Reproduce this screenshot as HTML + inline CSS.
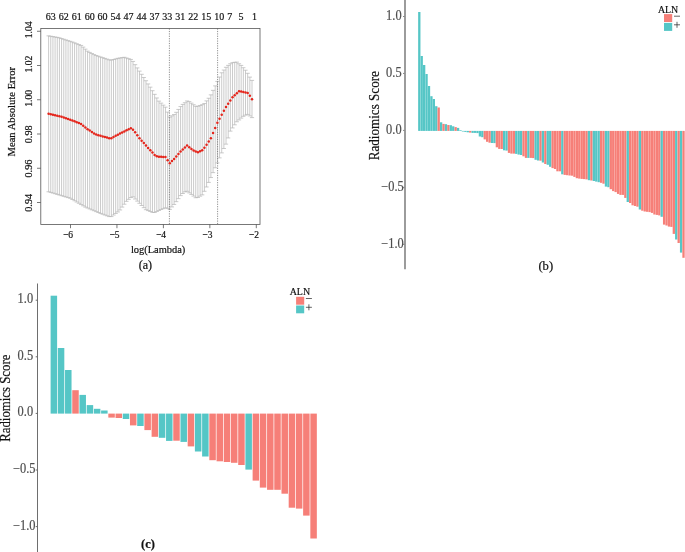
<!DOCTYPE html>
<html><head><meta charset="utf-8"><title>Figure</title>
<style>
html,body{margin:0;padding:0;background:#fff;}
body{width:685px;height:552px;overflow:hidden;font-family:"Liberation Serif",serif;}
svg{display:block;will-change:transform;}
text{font-family:"Liberation Serif",serif;}
</style></head><body>
<svg width="685" height="552" viewBox="0 0 685 552">
<rect x="0" y="0" width="685" height="552" fill="#ffffff"/>
<path d="M48.60 35.86V191.77M46.50 35.86h4.2M46.50 191.77h4.2M50.76 36.24V192.42M48.66 36.24h4.2M48.66 192.42h4.2M52.93 36.63V193.07M50.83 36.63h4.2M50.83 193.07h4.2M55.09 37.01V193.71M52.99 37.01h4.2M52.99 193.71h4.2M57.26 37.39V194.36M55.16 37.39h4.2M55.16 194.36h4.2M59.42 37.84V195.01M57.32 37.84h4.2M57.32 195.01h4.2M61.58 38.54V195.66M59.48 38.54h4.2M59.48 195.66h4.2M63.75 39.24V196.31M61.65 39.24h4.2M61.65 196.31h4.2M65.91 39.94V196.96M63.81 39.94h4.2M63.81 196.96h4.2M68.07 40.64V197.60M65.97 40.64h4.2M65.97 197.60h4.2M70.24 41.34V198.25M68.14 41.34h4.2M68.14 198.25h4.2M72.40 42.04V199.47M70.30 42.04h4.2M70.30 199.47h4.2M74.57 42.86V200.74M72.47 42.86h4.2M72.47 200.74h4.2M76.73 43.72V202.01M74.63 43.72h4.2M74.63 202.01h4.2M78.89 44.58V203.28M76.79 44.58h4.2M76.79 203.28h4.2M81.06 45.44V204.55M78.96 45.44h4.2M78.96 204.55h4.2M83.22 47.12V205.82M81.12 47.12h4.2M81.12 205.82h4.2M85.39 49.15V207.09M83.29 49.15h4.2M83.29 207.09h4.2M87.55 51.17V208.00M85.45 51.17h4.2M85.45 208.00h4.2M89.71 52.41V208.90M87.61 52.41h4.2M87.61 208.90h4.2M91.88 53.49V209.80M89.78 53.49h4.2M89.78 209.80h4.2M94.04 54.57V210.70M91.94 54.57h4.2M91.94 210.70h4.2M96.20 55.53V211.61M94.10 55.53h4.2M94.10 211.61h4.2M98.37 56.25V212.51M96.27 56.25h4.2M96.27 212.51h4.2M100.53 56.97V213.41M98.43 56.97h4.2M98.43 213.41h4.2M102.70 57.68V214.20M100.60 57.68h4.2M100.60 214.20h4.2M104.86 58.40V215.00M102.76 58.40h4.2M102.76 215.00h4.2M107.02 59.12V215.79M104.92 59.12h4.2M104.92 215.79h4.2M109.19 59.83V216.58M107.09 59.83h4.2M107.09 216.58h4.2M111.35 60.10V216.56M109.25 60.10h4.2M109.25 216.56h4.2M113.51 59.51V215.02M111.41 59.51h4.2M111.41 215.02h4.2M115.68 58.93V213.48M113.58 58.93h4.2M113.58 213.48h4.2M117.84 58.34V211.94M115.74 58.34h4.2M115.74 211.94h4.2M120.01 57.99V209.96M117.91 57.99h4.2M117.91 209.96h4.2M122.17 57.65V207.09M120.07 57.65h4.2M120.07 207.09h4.2M124.33 57.31V204.21M122.23 57.31h4.2M122.23 204.21h4.2M126.50 58.00V201.33M124.40 58.00h4.2M124.40 201.33h4.2M128.66 58.72V199.36M126.56 58.72h4.2M126.56 199.36h4.2M130.83 59.44V197.59M128.73 59.44h4.2M128.73 197.59h4.2M132.99 61.43V196.88M130.89 61.43h4.2M130.89 196.88h4.2M135.15 64.68V199.01M133.05 64.68h4.2M133.05 199.01h4.2M137.32 67.92V201.13M135.22 67.92h4.2M135.22 201.13h4.2M139.48 71.11V203.30M137.38 71.11h4.2M137.38 203.30h4.2M141.64 74.30V205.49M139.54 74.30h4.2M139.54 205.49h4.2M143.81 77.50V207.68M141.71 77.50h4.2M141.71 207.68h4.2M145.97 80.72V209.71M143.87 80.72h4.2M143.87 209.71h4.2M148.14 83.94V210.59M146.04 83.94h4.2M146.04 210.59h4.2M150.30 87.16V211.47M148.20 87.16h4.2M148.20 211.47h4.2M152.46 90.70V212.36M150.36 90.70h4.2M150.36 212.36h4.2M154.63 94.33V212.51M152.53 94.33h4.2M152.53 212.51h4.2M156.79 97.97V211.49M154.69 97.97h4.2M154.69 211.49h4.2M158.96 101.11V210.47M156.86 101.11h4.2M156.86 210.47h4.2M161.12 103.13V209.48M159.02 103.13h4.2M159.02 209.48h4.2M163.28 105.15V208.65M161.18 105.15h4.2M161.18 208.65h4.2M165.45 107.17V207.83M163.35 107.17h4.2M163.35 207.83h4.2M167.61 112.12V208.33M165.51 112.12h4.2M165.51 208.33h4.2M169.77 117.10V209.40M167.67 117.10h4.2M167.67 209.40h4.2M171.94 115.81V206.92M169.84 115.81h4.2M169.84 206.92h4.2M174.10 114.53V204.44M172.00 114.53h4.2M172.00 204.44h4.2M176.27 112.32V201.67M174.17 112.32h4.2M174.17 201.67h4.2M178.43 109.44V198.65M176.33 109.44h4.2M176.33 198.65h4.2M180.59 106.57V195.63M178.49 106.57h4.2M178.49 195.63h4.2M182.76 104.42V193.50M180.66 104.42h4.2M180.66 193.50h4.2M184.92 102.71V191.89M182.82 102.71h4.2M182.82 191.89h4.2M187.09 100.99V191.30M184.99 100.99h4.2M184.99 191.30h4.2M189.25 101.61V192.87M187.15 101.61h4.2M187.15 192.87h4.2M191.41 103.16V194.44M189.31 103.16h4.2M189.31 194.44h4.2M193.58 104.71V196.08M191.48 104.71h4.2M191.48 196.08h4.2M195.74 106.26V197.72M193.64 106.26h4.2M193.64 197.72h4.2M197.90 106.28V197.45M195.80 106.28h4.2M195.80 197.45h4.2M200.07 105.47V196.15M197.97 105.47h4.2M197.97 196.15h4.2M202.23 104.66V194.84M200.13 104.66h4.2M200.13 194.84h4.2M204.40 103.52V191.31M202.30 103.52h4.2M202.30 191.31h4.2M206.56 100.89V186.98M204.46 100.89h4.2M204.46 186.98h4.2M208.72 98.25V182.41M206.62 98.25h4.2M206.62 182.41h4.2M210.89 94.86V177.52M208.79 94.86h4.2M208.79 177.52h4.2M213.05 90.37V172.64M210.95 90.37h4.2M210.95 172.64h4.2M215.21 85.88V167.78M213.11 85.88h4.2M213.11 167.78h4.2M217.38 81.43V162.92M215.28 81.43h4.2M215.28 162.92h4.2M219.54 77.06V157.88M217.44 77.06h4.2M217.44 157.88h4.2M221.71 72.77V152.89M219.61 72.77h4.2M219.61 152.89h4.2M223.87 70.04V148.51M221.77 70.04h4.2M221.77 148.51h4.2M226.03 67.31V144.14M223.93 67.31h4.2M223.93 144.14h4.2M228.20 65.39V137.95M226.10 65.39h4.2M226.10 137.95h4.2M230.36 63.74V131.12M228.26 63.74h4.2M228.26 131.12h4.2M232.53 62.65V127.93M230.43 62.65h4.2M230.43 127.93h4.2M234.69 62.32V124.80M232.59 62.32h4.2M232.59 124.80h4.2M236.85 62.12V121.77M234.75 62.12h4.2M234.75 121.77h4.2M239.02 63.76V119.95M236.92 63.76h4.2M236.92 119.95h4.2M241.18 65.41V118.14M239.08 65.41h4.2M239.08 118.14h4.2M243.34 67.71V116.32M241.24 67.71h4.2M241.24 116.32h4.2M245.51 70.22V115.15M243.41 70.22h4.2M243.41 115.15h4.2M247.67 73.31V114.41M245.57 73.31h4.2M245.57 114.41h4.2M249.84 77.12V115.94M247.74 77.12h4.2M247.74 115.94h4.2M252.00 80.40V117.60M249.90 80.40h4.2M249.90 117.60h4.2" stroke="#b4b4b4" stroke-width="0.7" fill="none"/>
<path d="M169.4 28.5V224M217.6 28.5V224" stroke="#606060" stroke-width="0.7" stroke-dasharray="1.2 1.2" fill="none"/>
<circle cx="48.60" cy="113.79" r="1.25" fill="#e4251b"/><circle cx="50.76" cy="114.25" r="1.25" fill="#e4251b"/><circle cx="52.93" cy="114.71" r="1.25" fill="#e4251b"/><circle cx="55.09" cy="115.17" r="1.25" fill="#e4251b"/><circle cx="57.26" cy="115.63" r="1.25" fill="#e4251b"/><circle cx="59.42" cy="116.14" r="1.25" fill="#e4251b"/><circle cx="61.58" cy="116.85" r="1.25" fill="#e4251b"/><circle cx="63.75" cy="117.57" r="1.25" fill="#e4251b"/><circle cx="65.91" cy="118.29" r="1.25" fill="#e4251b"/><circle cx="68.07" cy="119.00" r="1.25" fill="#e4251b"/><circle cx="70.24" cy="119.72" r="1.25" fill="#e4251b"/><circle cx="72.40" cy="120.44" r="1.25" fill="#e4251b"/><circle cx="74.57" cy="121.27" r="1.25" fill="#e4251b"/><circle cx="76.73" cy="122.13" r="1.25" fill="#e4251b"/><circle cx="78.89" cy="123.00" r="1.25" fill="#e4251b"/><circle cx="81.06" cy="124.11" r="1.25" fill="#e4251b"/><circle cx="83.22" cy="125.78" r="1.25" fill="#e4251b"/><circle cx="85.39" cy="127.46" r="1.25" fill="#e4251b"/><circle cx="87.55" cy="129.13" r="1.25" fill="#e4251b"/><circle cx="89.71" cy="130.59" r="1.25" fill="#e4251b"/><circle cx="91.88" cy="132.02" r="1.25" fill="#e4251b"/><circle cx="94.04" cy="133.44" r="1.25" fill="#e4251b"/><circle cx="96.20" cy="134.60" r="1.25" fill="#e4251b"/><circle cx="98.37" cy="135.20" r="1.25" fill="#e4251b"/><circle cx="100.53" cy="135.80" r="1.25" fill="#e4251b"/><circle cx="102.70" cy="136.40" r="1.25" fill="#e4251b"/><circle cx="104.86" cy="137.00" r="1.25" fill="#e4251b"/><circle cx="107.02" cy="137.61" r="1.25" fill="#e4251b"/><circle cx="109.19" cy="138.21" r="1.25" fill="#e4251b"/><circle cx="111.35" cy="138.19" r="1.25" fill="#e4251b"/><circle cx="113.51" cy="137.03" r="1.25" fill="#e4251b"/><circle cx="115.68" cy="135.86" r="1.25" fill="#e4251b"/><circle cx="117.84" cy="134.69" r="1.25" fill="#e4251b"/><circle cx="120.01" cy="133.52" r="1.25" fill="#e4251b"/><circle cx="122.17" cy="132.44" r="1.25" fill="#e4251b"/><circle cx="124.33" cy="131.40" r="1.25" fill="#e4251b"/><circle cx="126.50" cy="130.36" r="1.25" fill="#e4251b"/><circle cx="128.66" cy="129.32" r="1.25" fill="#e4251b"/><circle cx="130.83" cy="128.28" r="1.25" fill="#e4251b"/><circle cx="132.99" cy="129.83" r="1.25" fill="#e4251b"/><circle cx="135.15" cy="132.25" r="1.25" fill="#e4251b"/><circle cx="137.32" cy="135.28" r="1.25" fill="#e4251b"/><circle cx="139.48" cy="138.29" r="1.25" fill="#e4251b"/><circle cx="141.64" cy="140.70" r="1.25" fill="#e4251b"/><circle cx="143.81" cy="143.11" r="1.25" fill="#e4251b"/><circle cx="145.97" cy="145.52" r="1.25" fill="#e4251b"/><circle cx="148.14" cy="147.93" r="1.25" fill="#e4251b"/><circle cx="150.30" cy="150.25" r="1.25" fill="#e4251b"/><circle cx="152.46" cy="152.58" r="1.25" fill="#e4251b"/><circle cx="154.63" cy="154.90" r="1.25" fill="#e4251b"/><circle cx="156.79" cy="156.14" r="1.25" fill="#e4251b"/><circle cx="158.96" cy="156.74" r="1.25" fill="#e4251b"/><circle cx="161.12" cy="156.82" r="1.25" fill="#e4251b"/><circle cx="163.28" cy="156.90" r="1.25" fill="#e4251b"/><circle cx="165.45" cy="156.98" r="1.25" fill="#e4251b"/><circle cx="167.61" cy="160.22" r="1.25" fill="#e4251b"/><circle cx="169.77" cy="163.23" r="1.25" fill="#e4251b"/><circle cx="171.94" cy="161.06" r="1.25" fill="#e4251b"/><circle cx="174.10" cy="158.90" r="1.25" fill="#e4251b"/><circle cx="176.27" cy="156.54" r="1.25" fill="#e4251b"/><circle cx="178.43" cy="154.03" r="1.25" fill="#e4251b"/><circle cx="180.59" cy="151.53" r="1.25" fill="#e4251b"/><circle cx="182.76" cy="149.41" r="1.25" fill="#e4251b"/><circle cx="184.92" cy="147.50" r="1.25" fill="#e4251b"/><circle cx="187.09" cy="145.60" r="1.25" fill="#e4251b"/><circle cx="189.25" cy="147.18" r="1.25" fill="#e4251b"/><circle cx="191.41" cy="148.95" r="1.25" fill="#e4251b"/><circle cx="193.58" cy="150.40" r="1.25" fill="#e4251b"/><circle cx="195.74" cy="151.40" r="1.25" fill="#e4251b"/><circle cx="197.90" cy="152.21" r="1.25" fill="#e4251b"/><circle cx="200.07" cy="151.23" r="1.25" fill="#e4251b"/><circle cx="202.23" cy="150.26" r="1.25" fill="#e4251b"/><circle cx="204.40" cy="147.77" r="1.25" fill="#e4251b"/><circle cx="206.56" cy="144.74" r="1.25" fill="#e4251b"/><circle cx="208.72" cy="141.56" r="1.25" fill="#e4251b"/><circle cx="210.89" cy="138.18" r="1.25" fill="#e4251b"/><circle cx="213.05" cy="133.12" r="1.25" fill="#e4251b"/><circle cx="215.21" cy="127.96" r="1.25" fill="#e4251b"/><circle cx="217.38" cy="122.85" r="1.25" fill="#e4251b"/><circle cx="219.54" cy="118.85" r="1.25" fill="#e4251b"/><circle cx="221.71" cy="114.84" r="1.25" fill="#e4251b"/><circle cx="223.87" cy="110.83" r="1.25" fill="#e4251b"/><circle cx="226.03" cy="107.04" r="1.25" fill="#e4251b"/><circle cx="228.20" cy="103.78" r="1.25" fill="#e4251b"/><circle cx="230.36" cy="100.52" r="1.25" fill="#e4251b"/><circle cx="232.53" cy="97.26" r="1.25" fill="#e4251b"/><circle cx="234.69" cy="95.14" r="1.25" fill="#e4251b"/><circle cx="236.85" cy="93.25" r="1.25" fill="#e4251b"/><circle cx="239.02" cy="91.36" r="1.25" fill="#e4251b"/><circle cx="241.18" cy="91.61" r="1.25" fill="#e4251b"/><circle cx="243.34" cy="92.05" r="1.25" fill="#e4251b"/><circle cx="245.51" cy="92.49" r="1.25" fill="#e4251b"/><circle cx="247.67" cy="92.93" r="1.25" fill="#e4251b"/><circle cx="249.84" cy="95.75" r="1.25" fill="#e4251b"/><circle cx="252.00" cy="99.20" r="1.25" fill="#e4251b"/>
<rect x="40.8" y="28.4" width="219.2" height="196" fill="none" stroke="#555" stroke-width="0.8"/>
<path d="M70.50 224.4v3.8" stroke="#555" stroke-width="0.8"/><text transform="translate(63.00 238.10) scale(0.871 1)" font-size="10.9" fill="#111" stroke="#111" stroke-width="0.2">−6</text>
<path d="M116.95 224.4v3.8" stroke="#555" stroke-width="0.8"/><text transform="translate(109.45 238.10) scale(0.871 1)" font-size="10.9" fill="#111" stroke="#111" stroke-width="0.2">−5</text>
<path d="M163.40 224.4v3.8" stroke="#555" stroke-width="0.8"/><text transform="translate(155.90 238.10) scale(0.871 1)" font-size="10.9" fill="#111" stroke="#111" stroke-width="0.2">−4</text>
<path d="M209.85 224.4v3.8" stroke="#555" stroke-width="0.8"/><text transform="translate(202.35 238.10) scale(0.871 1)" font-size="10.9" fill="#111" stroke="#111" stroke-width="0.2">−3</text>
<path d="M256.30 224.4v3.8" stroke="#555" stroke-width="0.8"/><text transform="translate(248.80 238.10) scale(0.871 1)" font-size="10.9" fill="#111" stroke="#111" stroke-width="0.2">−2</text>
<path d="M40.8 202.50h-3.8" stroke="#555" stroke-width="0.8"/><text transform="translate(32.40 211.80) rotate(-90) scale(0.949 1)" font-size="10.9" fill="#111" stroke="#111" stroke-width="0.2">0.94</text>
<path d="M40.8 168.25h-3.8" stroke="#555" stroke-width="0.8"/><text transform="translate(32.40 177.55) rotate(-90) scale(0.949 1)" font-size="10.9" fill="#111" stroke="#111" stroke-width="0.2">0.96</text>
<path d="M40.8 134.00h-3.8" stroke="#555" stroke-width="0.8"/><text transform="translate(32.40 143.30) rotate(-90) scale(0.949 1)" font-size="10.9" fill="#111" stroke="#111" stroke-width="0.2">0.98</text>
<path d="M40.8 99.75h-3.8" stroke="#555" stroke-width="0.8"/><text transform="translate(32.40 106.75) rotate(-90) scale(0.881 1)" font-size="10.9" fill="#111" stroke="#111" stroke-width="0.2">1.00</text>
<path d="M40.8 65.50h-3.8" stroke="#555" stroke-width="0.8"/><text transform="translate(32.40 72.50) rotate(-90) scale(0.881 1)" font-size="10.9" fill="#111" stroke="#111" stroke-width="0.2">1.02</text>
<path d="M40.8 31.25h-3.8" stroke="#555" stroke-width="0.8"/><text transform="translate(32.40 38.25) rotate(-90) scale(0.881 1)" font-size="10.9" fill="#111" stroke="#111" stroke-width="0.2">1.04</text>
<text transform="translate(14.90 156.50) rotate(-90) scale(0.973 1)" font-size="10.9" fill="#111" stroke="#111" stroke-width="0.2">Mean Absolute Error</text>
<text transform="translate(130.90 253.40) scale(0.958 1)" font-size="10.9" fill="#111" stroke="#111" stroke-width="0.2">log(Lambda)</text>
<text transform="translate(138.70 269.00) scale(1.006 1)" font-size="12.0" fill="#111" stroke="#111" stroke-width="0.2">(a)</text>
<text transform="translate(45.79 19.60) scale(0.920 1)" font-size="10.9" fill="#111" stroke="#111" stroke-width="0.2">63</text><text transform="translate(58.74 19.60) scale(0.920 1)" font-size="10.9" fill="#111" stroke="#111" stroke-width="0.2">62</text><text transform="translate(71.69 19.60) scale(0.920 1)" font-size="10.9" fill="#111" stroke="#111" stroke-width="0.2">61</text><text transform="translate(84.64 19.60) scale(0.920 1)" font-size="10.9" fill="#111" stroke="#111" stroke-width="0.2">60</text><text transform="translate(97.59 19.60) scale(0.920 1)" font-size="10.9" fill="#111" stroke="#111" stroke-width="0.2">60</text><text transform="translate(110.54 19.60) scale(0.920 1)" font-size="10.9" fill="#111" stroke="#111" stroke-width="0.2">54</text><text transform="translate(123.49 19.60) scale(0.920 1)" font-size="10.9" fill="#111" stroke="#111" stroke-width="0.2">47</text><text transform="translate(136.44 19.60) scale(0.920 1)" font-size="10.9" fill="#111" stroke="#111" stroke-width="0.2">44</text><text transform="translate(149.39 19.60) scale(0.920 1)" font-size="10.9" fill="#111" stroke="#111" stroke-width="0.2">37</text><text transform="translate(162.34 19.60) scale(0.920 1)" font-size="10.9" fill="#111" stroke="#111" stroke-width="0.2">33</text><text transform="translate(175.29 19.60) scale(0.920 1)" font-size="10.9" fill="#111" stroke="#111" stroke-width="0.2">31</text><text transform="translate(188.24 19.60) scale(0.920 1)" font-size="10.9" fill="#111" stroke="#111" stroke-width="0.2">22</text><text transform="translate(201.19 19.60) scale(0.920 1)" font-size="10.9" fill="#111" stroke="#111" stroke-width="0.2">15</text><text transform="translate(214.14 19.60) scale(0.920 1)" font-size="10.9" fill="#111" stroke="#111" stroke-width="0.2">10</text><text transform="translate(227.29 19.60) scale(0.920 1)" font-size="10.9" fill="#111" stroke="#111" stroke-width="0.2">7</text><text transform="translate(238.39 19.60) scale(0.920 1)" font-size="10.9" fill="#111" stroke="#111" stroke-width="0.2">5</text><text transform="translate(251.89 19.60) scale(0.920 1)" font-size="10.9" fill="#111" stroke="#111" stroke-width="0.2">1</text>
<rect x="418.15" y="12.00" width="2.3" height="118.90" fill="#55c6c6"/><rect x="420.57" y="56.00" width="2.3" height="74.90" fill="#55c6c6"/><rect x="423.00" y="65.00" width="2.3" height="65.90" fill="#55c6c6"/><rect x="425.42" y="74.00" width="2.3" height="56.90" fill="#55c6c6"/><rect x="427.85" y="86.00" width="2.3" height="44.90" fill="#55c6c6"/><rect x="430.27" y="96.20" width="2.3" height="34.70" fill="#55c6c6"/><rect x="432.69" y="99.00" width="2.3" height="31.90" fill="#55c6c6"/><rect x="435.12" y="106.20" width="2.3" height="24.70" fill="#55c6c6"/><rect x="437.54" y="107.50" width="2.3" height="23.40" fill="#f67f78"/><rect x="439.97" y="122.30" width="2.3" height="8.60" fill="#55c6c6"/><rect x="442.39" y="123.90" width="2.3" height="7.00" fill="#f67f78"/><rect x="444.81" y="124.20" width="2.3" height="6.70" fill="#55c6c6"/><rect x="447.24" y="125.00" width="2.3" height="5.90" fill="#f67f78"/><rect x="449.66" y="125.20" width="2.3" height="5.70" fill="#55c6c6"/><rect x="452.09" y="126.30" width="2.3" height="4.60" fill="#55c6c6"/><rect x="454.51" y="127.10" width="2.3" height="3.80" fill="#f67f78"/><rect x="456.93" y="127.90" width="2.3" height="3.00" fill="#55c6c6"/><rect x="459.36" y="130.20" width="2.3" height="0.70" fill="#55c6c6"/><rect x="461.78" y="130.90" width="2.3" height="0.60" fill="#55c6c6"/><rect x="464.21" y="130.90" width="2.3" height="1.00" fill="#55c6c6"/><rect x="466.63" y="130.90" width="2.3" height="1.40" fill="#55c6c6"/><rect x="469.05" y="130.90" width="2.3" height="1.70" fill="#f67f78"/><rect x="471.48" y="130.90" width="2.3" height="2.00" fill="#55c6c6"/><rect x="473.90" y="130.90" width="2.3" height="2.00" fill="#55c6c6"/><rect x="476.33" y="130.90" width="2.3" height="2.20" fill="#55c6c6"/><rect x="478.75" y="130.90" width="2.3" height="5.60" fill="#55c6c6"/><rect x="481.17" y="130.90" width="2.3" height="6.30" fill="#55c6c6"/><rect x="483.60" y="130.90" width="2.3" height="8.50" fill="#f67f78"/><rect x="486.02" y="130.90" width="2.3" height="10.90" fill="#f67f78"/><rect x="488.45" y="130.90" width="2.3" height="11.80" fill="#f67f78"/><rect x="490.87" y="130.90" width="2.3" height="12.10" fill="#55c6c6"/><rect x="493.29" y="130.90" width="2.3" height="12.20" fill="#55c6c6"/><rect x="495.72" y="130.90" width="2.3" height="16.40" fill="#f67f78"/><rect x="498.14" y="130.90" width="2.3" height="18.00" fill="#f67f78"/><rect x="500.57" y="130.90" width="2.3" height="18.10" fill="#f67f78"/><rect x="502.99" y="130.90" width="2.3" height="19.40" fill="#55c6c6"/><rect x="505.41" y="130.90" width="2.3" height="19.70" fill="#55c6c6"/><rect x="507.84" y="130.90" width="2.3" height="22.00" fill="#f67f78"/><rect x="510.26" y="130.90" width="2.3" height="22.70" fill="#f67f78"/><rect x="512.69" y="130.90" width="2.3" height="22.70" fill="#f67f78"/><rect x="515.11" y="130.90" width="2.3" height="23.00" fill="#55c6c6"/><rect x="517.53" y="130.90" width="2.3" height="23.70" fill="#55c6c6"/><rect x="519.96" y="130.90" width="2.3" height="24.10" fill="#55c6c6"/><rect x="522.38" y="130.90" width="2.3" height="25.40" fill="#f67f78"/><rect x="524.81" y="130.90" width="2.3" height="27.00" fill="#f67f78"/><rect x="527.23" y="130.90" width="2.3" height="27.00" fill="#55c6c6"/><rect x="529.65" y="130.90" width="2.3" height="27.00" fill="#f67f78"/><rect x="532.08" y="130.90" width="2.3" height="27.20" fill="#f67f78"/><rect x="534.50" y="130.90" width="2.3" height="28.90" fill="#55c6c6"/><rect x="536.93" y="130.90" width="2.3" height="29.60" fill="#55c6c6"/><rect x="539.35" y="130.90" width="2.3" height="29.80" fill="#f67f78"/><rect x="541.77" y="130.90" width="2.3" height="31.60" fill="#55c6c6"/><rect x="544.20" y="130.90" width="2.3" height="33.10" fill="#f67f78"/><rect x="546.62" y="130.90" width="2.3" height="33.90" fill="#55c6c6"/><rect x="549.05" y="130.90" width="2.3" height="35.90" fill="#55c6c6"/><rect x="551.47" y="130.90" width="2.3" height="37.20" fill="#f67f78"/><rect x="553.89" y="130.90" width="2.3" height="38.10" fill="#f67f78"/><rect x="556.32" y="130.90" width="2.3" height="40.40" fill="#f67f78"/><rect x="558.74" y="130.90" width="2.3" height="40.40" fill="#f67f78"/><rect x="561.17" y="130.90" width="2.3" height="43.40" fill="#55c6c6"/><rect x="563.59" y="130.90" width="2.3" height="44.00" fill="#f67f78"/><rect x="566.01" y="130.90" width="2.3" height="44.30" fill="#f67f78"/><rect x="568.44" y="130.90" width="2.3" height="44.60" fill="#f67f78"/><rect x="570.86" y="130.90" width="2.3" height="44.80" fill="#f67f78"/><rect x="573.29" y="130.90" width="2.3" height="46.00" fill="#f67f78"/><rect x="575.71" y="130.90" width="2.3" height="47.30" fill="#f67f78"/><rect x="578.13" y="130.90" width="2.3" height="47.70" fill="#f67f78"/><rect x="580.56" y="130.90" width="2.3" height="48.00" fill="#f67f78"/><rect x="582.98" y="130.90" width="2.3" height="48.20" fill="#f67f78"/><rect x="585.41" y="130.90" width="2.3" height="48.50" fill="#f67f78"/><rect x="587.83" y="130.90" width="2.3" height="49.30" fill="#55c6c6"/><rect x="590.25" y="130.90" width="2.3" height="49.60" fill="#f67f78"/><rect x="592.68" y="130.90" width="2.3" height="50.10" fill="#55c6c6"/><rect x="595.10" y="130.90" width="2.3" height="50.70" fill="#55c6c6"/><rect x="597.53" y="130.90" width="2.3" height="51.30" fill="#55c6c6"/><rect x="599.95" y="130.90" width="2.3" height="51.90" fill="#f67f78"/><rect x="602.37" y="130.90" width="2.3" height="52.80" fill="#f67f78"/><rect x="604.80" y="130.90" width="2.3" height="55.70" fill="#55c6c6"/><rect x="607.22" y="130.90" width="2.3" height="56.30" fill="#55c6c6"/><rect x="609.65" y="130.90" width="2.3" height="58.30" fill="#f67f78"/><rect x="612.07" y="130.90" width="2.3" height="60.20" fill="#f67f78"/><rect x="614.49" y="130.90" width="2.3" height="61.20" fill="#f67f78"/><rect x="616.92" y="130.90" width="2.3" height="63.00" fill="#f67f78"/><rect x="619.34" y="130.90" width="2.3" height="64.00" fill="#f67f78"/><rect x="621.77" y="130.90" width="2.3" height="64.00" fill="#f67f78"/><rect x="624.19" y="130.90" width="2.3" height="67.00" fill="#f67f78"/><rect x="626.61" y="130.90" width="2.3" height="71.10" fill="#55c6c6"/><rect x="629.04" y="130.90" width="2.3" height="72.10" fill="#f67f78"/><rect x="631.46" y="130.90" width="2.3" height="74.40" fill="#f67f78"/><rect x="633.89" y="130.90" width="2.3" height="75.10" fill="#f67f78"/><rect x="636.31" y="130.90" width="2.3" height="75.80" fill="#f67f78"/><rect x="638.73" y="130.90" width="2.3" height="78.60" fill="#55c6c6"/><rect x="641.16" y="130.90" width="2.3" height="79.80" fill="#f67f78"/><rect x="643.58" y="130.90" width="2.3" height="80.60" fill="#f67f78"/><rect x="646.01" y="130.90" width="2.3" height="80.90" fill="#f67f78"/><rect x="648.43" y="130.90" width="2.3" height="81.20" fill="#f67f78"/><rect x="650.85" y="130.90" width="2.3" height="82.00" fill="#f67f78"/><rect x="653.28" y="130.90" width="2.3" height="83.60" fill="#f67f78"/><rect x="655.70" y="130.90" width="2.3" height="84.00" fill="#f67f78"/><rect x="658.13" y="130.90" width="2.3" height="84.50" fill="#f67f78"/><rect x="660.55" y="130.90" width="2.3" height="85.90" fill="#55c6c6"/><rect x="662.97" y="130.90" width="2.3" height="93.70" fill="#f67f78"/><rect x="665.40" y="130.90" width="2.3" height="94.60" fill="#f67f78"/><rect x="667.82" y="130.90" width="2.3" height="95.70" fill="#f67f78"/><rect x="670.25" y="130.90" width="2.3" height="96.00" fill="#f67f78"/><rect x="672.67" y="130.90" width="2.3" height="103.00" fill="#f67f78"/><rect x="675.09" y="130.90" width="2.3" height="108.60" fill="#55c6c6"/><rect x="677.52" y="130.90" width="2.3" height="112.10" fill="#f67f78"/><rect x="679.94" y="130.90" width="2.3" height="121.70" fill="#55c6c6"/><rect x="682.37" y="130.90" width="2.3" height="126.90" fill="#f67f78"/>
<path d="M405.0 0V269.2" stroke="#979797" stroke-width="1.9"/>
<path d="M403.2 16.50h1" stroke="#444" stroke-width="0.8"/><text transform="translate(386.10 19.80) scale(0.886 1)" font-size="14.0" fill="#4d4d4d" stroke="#4d4d4d" stroke-width="0.2">1.0</text>
<path d="M403.2 73.45h1" stroke="#444" stroke-width="0.8"/><text transform="translate(386.10 76.75) scale(0.886 1)" font-size="14.0" fill="#4d4d4d" stroke="#4d4d4d" stroke-width="0.2">0.5</text>
<path d="M403.2 130.40h1" stroke="#444" stroke-width="0.8"/><text transform="translate(386.10 133.70) scale(0.886 1)" font-size="14.0" fill="#4d4d4d" stroke="#4d4d4d" stroke-width="0.2">0.0</text>
<path d="M403.2 187.35h1" stroke="#444" stroke-width="0.8"/><text transform="translate(381.21 190.65) scale(0.886 1)" font-size="14.0" fill="#4d4d4d" stroke="#4d4d4d" stroke-width="0.2">−0.5</text>
<path d="M403.2 244.30h1" stroke="#444" stroke-width="0.8"/><text transform="translate(381.21 247.60) scale(0.886 1)" font-size="14.0" fill="#4d4d4d" stroke="#4d4d4d" stroke-width="0.2">−1.0</text>
<text transform="translate(379.30 160.30) rotate(-90) scale(0.893 1)" font-size="14.7" fill="#111" stroke="#111" stroke-width="0.2">Radiomics Score</text>
<text transform="translate(538.40 269.60) scale(1.051 1)" font-size="12.0" fill="#111" stroke="#111" stroke-width="0.2">(b)</text>
<text transform="translate(657.90 12.50) scale(0.867 1)" font-size="11.4" fill="#111" stroke="#111" stroke-width="0.2">ALN</text><rect x="664" y="14.1" width="8.2" height="7.9" fill="#f67f78"/><rect x="664" y="22.9" width="8.2" height="8" fill="#55c6c6"/><path d="M674 16.2h6M674 24.8h6M677 21.8v6" stroke="#222" stroke-width="0.7" fill="none"/>
<rect x="50.60" y="295.70" width="6.5" height="117.90" fill="#55c6c6"/><rect x="57.81" y="348.00" width="6.5" height="65.60" fill="#55c6c6"/><rect x="65.03" y="370.00" width="6.5" height="43.60" fill="#55c6c6"/><rect x="72.25" y="390.20" width="6.5" height="23.40" fill="#f67f78"/><rect x="79.46" y="394.90" width="6.5" height="18.70" fill="#55c6c6"/><rect x="86.68" y="405.10" width="6.5" height="8.50" fill="#55c6c6"/><rect x="93.89" y="408.80" width="6.5" height="4.80" fill="#55c6c6"/><rect x="101.10" y="410.50" width="6.5" height="3.10" fill="#55c6c6"/><rect x="108.32" y="413.60" width="6.5" height="4.00" fill="#f67f78"/><rect x="115.53" y="413.60" width="6.5" height="4.40" fill="#f67f78"/><rect x="122.75" y="413.60" width="6.5" height="5.40" fill="#55c6c6"/><rect x="129.97" y="413.60" width="6.5" height="11.80" fill="#f67f78"/><rect x="137.18" y="413.60" width="6.5" height="12.40" fill="#55c6c6"/><rect x="144.40" y="413.60" width="6.5" height="16.50" fill="#f67f78"/><rect x="151.61" y="413.60" width="6.5" height="23.20" fill="#f67f78"/><rect x="158.82" y="413.60" width="6.5" height="24.20" fill="#55c6c6"/><rect x="166.04" y="413.60" width="6.5" height="27.30" fill="#55c6c6"/><rect x="173.25" y="413.60" width="6.5" height="27.10" fill="#f67f78"/><rect x="180.47" y="413.60" width="6.5" height="28.30" fill="#55c6c6"/><rect x="187.69" y="413.60" width="6.5" height="32.80" fill="#f67f78"/><rect x="194.90" y="413.60" width="6.5" height="37.90" fill="#55c6c6"/><rect x="202.11" y="413.60" width="6.5" height="42.90" fill="#55c6c6"/><rect x="209.33" y="413.60" width="6.5" height="46.60" fill="#f67f78"/><rect x="216.54" y="413.60" width="6.5" height="47.70" fill="#f67f78"/><rect x="223.76" y="413.60" width="6.5" height="48.40" fill="#f67f78"/><rect x="230.97" y="413.60" width="6.5" height="49.20" fill="#f67f78"/><rect x="238.19" y="413.60" width="6.5" height="51.40" fill="#f67f78"/><rect x="245.41" y="413.60" width="6.5" height="56.00" fill="#55c6c6"/><rect x="252.62" y="413.60" width="6.5" height="67.00" fill="#f67f78"/><rect x="259.83" y="413.60" width="6.5" height="74.00" fill="#f67f78"/><rect x="267.05" y="413.60" width="6.5" height="76.20" fill="#f67f78"/><rect x="274.26" y="413.60" width="6.5" height="76.20" fill="#f67f78"/><rect x="281.48" y="413.60" width="6.5" height="80.10" fill="#f67f78"/><rect x="288.69" y="413.60" width="6.5" height="94.10" fill="#f67f78"/><rect x="295.91" y="413.60" width="6.5" height="95.00" fill="#f67f78"/><rect x="303.12" y="413.60" width="6.5" height="102.00" fill="#f67f78"/><rect x="310.34" y="413.60" width="6.5" height="124.90" fill="#f67f78"/>
<path d="M37.5 283.5V552" stroke="#666" stroke-width="0.95"/>
<path d="M35.7 300.20h1.4" stroke="#444" stroke-width="0.8"/><text transform="translate(17.60 303.20) scale(0.899 1)" font-size="13.8" fill="#4d4d4d" stroke="#4d4d4d" stroke-width="0.2">1.0</text>
<path d="M35.7 356.80h1.4" stroke="#444" stroke-width="0.8"/><text transform="translate(17.60 359.80) scale(0.899 1)" font-size="13.8" fill="#4d4d4d" stroke="#4d4d4d" stroke-width="0.2">0.5</text>
<path d="M35.7 413.40h1.4" stroke="#444" stroke-width="0.8"/><text transform="translate(17.60 416.40) scale(0.899 1)" font-size="13.8" fill="#4d4d4d" stroke="#4d4d4d" stroke-width="0.2">0.0</text>
<path d="M35.7 470.00h1.4" stroke="#444" stroke-width="0.8"/><text transform="translate(13.01 473.00) scale(0.899 1)" font-size="13.8" fill="#4d4d4d" stroke="#4d4d4d" stroke-width="0.2">−0.5</text>
<path d="M35.7 526.60h1.4" stroke="#444" stroke-width="0.8"/><text transform="translate(13.01 529.60) scale(0.899 1)" font-size="13.8" fill="#4d4d4d" stroke="#4d4d4d" stroke-width="0.2">−1.0</text>
<text transform="translate(9.70 441.80) rotate(-90) scale(0.873 1)" font-size="14.7" fill="#111" stroke="#111" stroke-width="0.2">Radiomics Score</text>
<text transform="translate(141.00 548.00) scale(1.044 1)" font-size="12.0" fill="#111" stroke="#111" stroke-width="0.2" font-weight="bold">(c)</text>
<text transform="translate(289.70 294.60) scale(0.871 1)" font-size="11.4" fill="#111" stroke="#111" stroke-width="0.2">ALN</text><rect x="296.1" y="296.8" width="8.1" height="7.9" fill="#f67f78"/><rect x="296.1" y="305.5" width="8.1" height="7.8" fill="#55c6c6"/><path d="M305.9 298.5h6M305.9 307.3h6M308.9 304.3v6" stroke="#222" stroke-width="0.7" fill="none"/>
</svg>
</body></html>
